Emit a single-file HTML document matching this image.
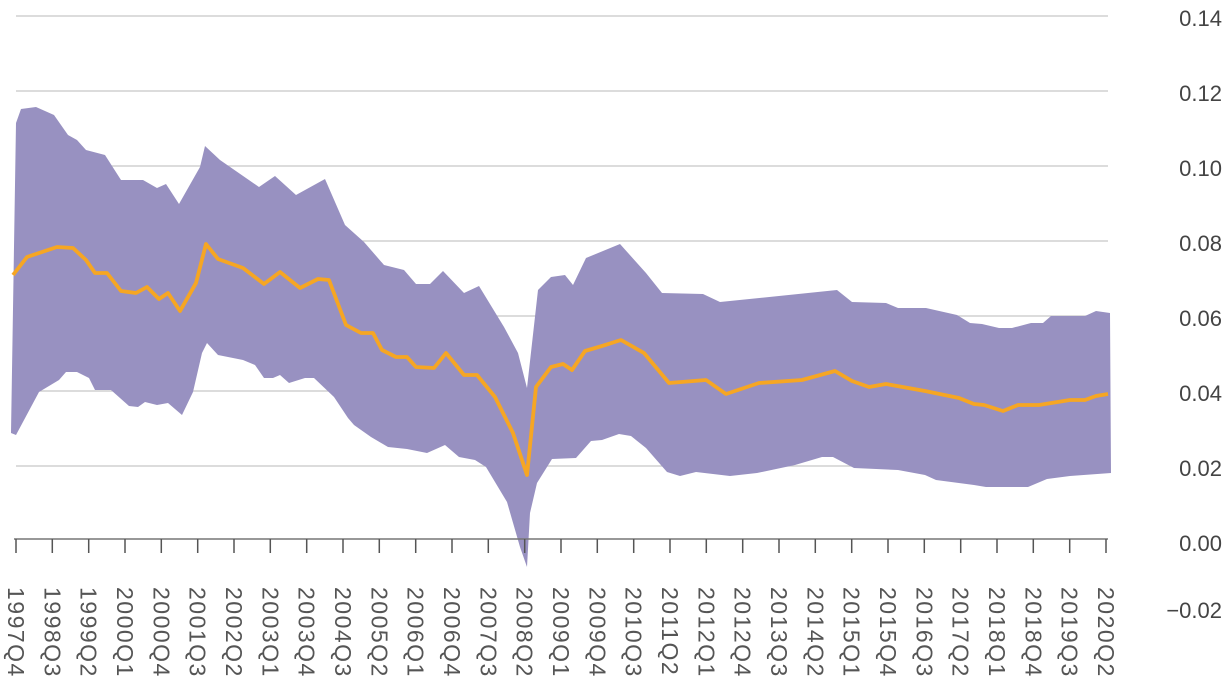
<!DOCTYPE html>
<html><head><meta charset="utf-8"><style>
body{margin:0;background:#fff;}
svg{display:block;font-family:"Liberation Sans",sans-serif;}
</style></head><body>
<svg width="1226" height="682" viewBox="0 0 1226 682" xmlns="http://www.w3.org/2000/svg">
<g stroke="#c8c8c8" stroke-width="1.2">
<line x1="16" y1="16" x2="1108" y2="16"/><line x1="16" y1="91" x2="1108" y2="91"/>
<line x1="16" y1="166" x2="1108" y2="166"/><line x1="16" y1="241" x2="1108" y2="241"/>
<line x1="16" y1="316" x2="1108" y2="316"/><line x1="16" y1="391" x2="1108" y2="391"/>
<line x1="16" y1="466" x2="1108" y2="466"/>
</g>
<polygon fill="#9891c1" points="11,433 16,123 21,109 36,107 54,115 68,135 77,140 86,150 105,155 121,180 143,180 157,188 166,184 179,204 200,167 205,146 220,160 259,187 275,176 296,195 325,179 345,225 364,242 384,265 404,270 416,284 430,284 443,271 464,293 479,286 504,327 518,353 527,388 538,290 551,277 565,275 573,285 586,258 620,244 646,273 662,293 703,294 720,302 837,290 852,302 886,303 898,308 926,308 957,315 970,323 982,324 999,328 1012,328 1031,323 1043,323 1051,316 1085,316 1096,311 1110,313 1111,473 1070,476 1047,479 1028,487 986,487 974,485 936,480 925,475 898,470 854,468 833,457 822,457 795,465 757,473 730,476 696,472 680,476 667,472 646,448 631,436 619,434 602,440 591,441 576,458 552,459 537,483 530,513 527,567 520,547 507,502 486,467 475,460 459,457 445,445 427,453 407,449 388,447 371,437 354,425 348,418 334,397 314,378 305,378 289,383 280,375 273,378 264,378 255,365 243,360 218,355 207,343 202,353 193,392 182,415 168,403 157,405 145,402 138,407 129,406 111,390 95,390 89,378 77,372 66,372 59,380 39,392 16,435"/>
<polyline fill="none" stroke="#f6a623" stroke-width="3.8" stroke-linejoin="round" points="13,275 27,257 57,247 73,248 86,260 95,273 107,273 121,291 136,293 147,287 159,299 168,293 180,311 196,283 206,244 218,259 243,268 264,284 280,272 300,288 318,279 329,280 346,325 361,333 373,333 382,350 396,357 407,357 416,367 434,368 446,353 464,375 477,375 495,397 513,433 527,475 536,387 551,367 563,364 572,370 585,351 602,346 621,340 644,353 669,383 706,380 726,394 759,383 802,380 835,371 852,381 869,387 886,384 925,391 959,398 974,404 984,405 1003,411 1018,405 1039,405 1070,400 1085,400 1096,396 1108,394"/>
<line x1="14" y1="539" x2="1108" y2="539" stroke="#777" stroke-width="1.5"/>
<path stroke="#555" stroke-width="1.5" d="M16 539V553M52.3 539V553M88.7 539V553M125 539V553M161.3 539V553M197.7 539V553M234 539V553M270.3 539V553M306.7 539V553M343 539V553M379.3 539V553M415.7 539V553M452 539V553M488.3 539V553M524.7 539V553M561 539V553M597.3 539V553M633.7 539V553M670 539V553M706.3 539V553M742.7 539V553M779 539V553M815.3 539V553M851.7 539V553M888 539V553M924.3 539V553M960.7 539V553M997 539V553M1033.3 539V553M1069.7 539V553M1106 539V553"/>
<g fill="#444" font-size="22" text-anchor="end">
<text x="1222" y="26">0.14</text><text x="1222" y="101">0.12</text>
<text x="1222" y="176">0.10</text><text x="1222" y="251">0.08</text>
<text x="1222" y="326">0.06</text><text x="1222" y="401">0.04</text>
<text x="1222" y="476">0.02</text><text x="1222" y="551">0.00</text>
<text x="1222" y="618">−0.02</text>
</g>
<g fill="#555" font-size="23" letter-spacing="1.5">
<text transform="translate(8,587) rotate(90)">1997Q4</text>
<text transform="translate(44.3,587) rotate(90)">1998Q3</text>
<text transform="translate(80.7,587) rotate(90)">1999Q2</text>
<text transform="translate(117,587) rotate(90)">2000Q1</text>
<text transform="translate(153.3,587) rotate(90)">2000Q4</text>
<text transform="translate(189.7,587) rotate(90)">2001Q3</text>
<text transform="translate(226,587) rotate(90)">2002Q2</text>
<text transform="translate(262.3,587) rotate(90)">2003Q1</text>
<text transform="translate(298.7,587) rotate(90)">2003Q4</text>
<text transform="translate(335,587) rotate(90)">2004Q3</text>
<text transform="translate(371.3,587) rotate(90)">2005Q2</text>
<text transform="translate(407.7,587) rotate(90)">2006Q1</text>
<text transform="translate(444,587) rotate(90)">2006Q4</text>
<text transform="translate(480.3,587) rotate(90)">2007Q3</text>
<text transform="translate(516.7,587) rotate(90)">2008Q2</text>
<text transform="translate(553,587) rotate(90)">2009Q1</text>
<text transform="translate(589.3,587) rotate(90)">2009Q4</text>
<text transform="translate(625.7,587) rotate(90)">2010Q3</text>
<text transform="translate(662,587) rotate(90)">2011Q2</text>
<text transform="translate(698.3,587) rotate(90)">2012Q1</text>
<text transform="translate(734.7,587) rotate(90)">2012Q4</text>
<text transform="translate(771,587) rotate(90)">2013Q3</text>
<text transform="translate(807.3,587) rotate(90)">2014Q2</text>
<text transform="translate(843.7,587) rotate(90)">2015Q1</text>
<text transform="translate(880,587) rotate(90)">2015Q4</text>
<text transform="translate(916.3,587) rotate(90)">2016Q3</text>
<text transform="translate(952.7,587) rotate(90)">2017Q2</text>
<text transform="translate(989,587) rotate(90)">2018Q1</text>
<text transform="translate(1025.3,587) rotate(90)">2018Q4</text>
<text transform="translate(1061.7,587) rotate(90)">2019Q3</text>
<text transform="translate(1098,587) rotate(90)">2020Q2</text>
</g>
</svg>
</body></html>
